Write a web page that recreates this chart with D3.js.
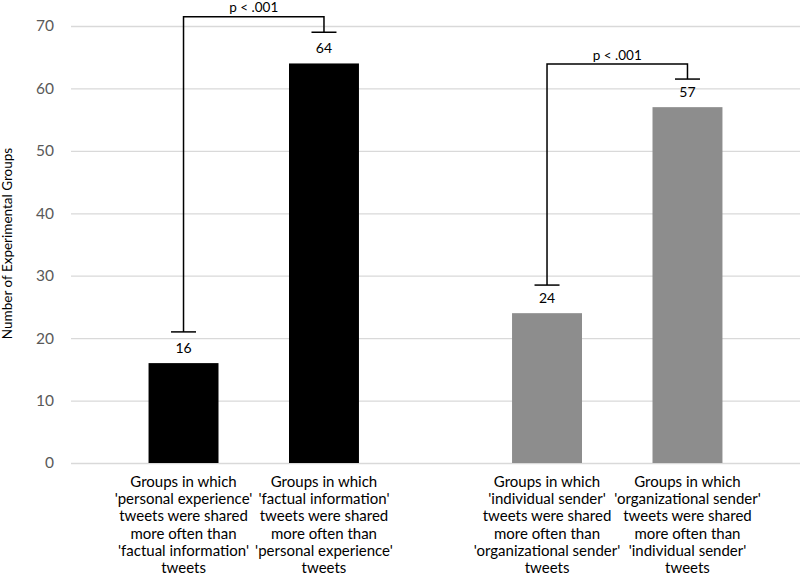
<!DOCTYPE html>
<html>
<head>
<meta charset="utf-8">
<script src="https://cdn.jsdelivr.net/npm/d3@7"></script>
<style>
  html, body { margin: 0; padding: 0; background: #fff; }
  svg { display: block; }
</style>
</head>
<body>
<svg id="chart" width="800" height="577"></svg>
<script>
// ---- data ----
const groups = ["type", "sender"];
const categories = [
  ["Groups in which", "'personal experience'", "tweets were shared", "more often than", "'factual information'", "tweets"],
  ["Groups in which", "'factual information'", "tweets were shared", "more often than", "'personal experience'", "tweets"],
  ["Groups in which", "'individual sender'", "tweets were shared", "more often than", "'organizational sender'", "tweets"],
  ["Groups in which", "'organizational sender'", "tweets were shared", "more often than", "'individual sender'", "tweets"]
];
const categoryGroup = ["type", "type", "sender", "sender"];
const values = [16, 64, 24, 57];
const barColors = ["#000000", "#000000", "#8d8d8d", "#8d8d8d"];
const yTicks = [0, 10, 20, 30, 40, 50, 60, 70];
const yTitle = "Number of Experimental Groups";
// significance brackets: [leftBar, rightBar, leftEnd, rightEnd, top] in data units
const brackets = [
  { left: 0, right: 1, leftEnd: 21, rightEnd: 69, top: 71.5, label: "p < .001" },
  { left: 2, right: 3, leftEnd: 28.5, rightEnd: 61.5, top: 63.9, label: "p < .001" }
];

// ---- layout ----
const svg = d3.select("#chart");
const font = "Lato, 'Open Sans', sans-serif";
const plotLeft = 71, plotRight = 800;

const y = d3.scaleLinear().domain([0, 70]).range([463, 26]);
const xGroup = d3.scaleBand().domain(groups).range([72, 799]).paddingInner(0).paddingOuter(0);
const xInner = d3.scaleBand().domain([0, 1]).range([0, xGroup.bandwidth()])
  .paddingInner(0.502).paddingOuter(0.545);

const idx = d3.range(values.length);
const withinIdx = idx.map(i => idx.filter(j => categoryGroup[j] === categoryGroup[i]).indexOf(i));
const barX = i => xGroup(categoryGroup[i]) + xInner(withinIdx[i]);
const barCx = i => barX(i) + xInner.bandwidth() / 2;

// gridlines
const yAxis = d3.axisLeft(y).tickValues(yTicks).tickSize(-(plotRight - plotLeft)).tickPadding(17);
const gAxis = svg.append("g").attr("transform", `translate(${plotLeft},0)`).call(yAxis);
gAxis.select(".domain").remove();
gAxis.selectAll(".tick line").attr("stroke", "#d9d9d9").attr("stroke-width", 1.3);
gAxis.selectAll(".tick text")
  .attr("fill", "#595959")
  .style("font-family", font)
  .style("font-size", "15.5px");

// y title
svg.append("text")
  .attr("transform", `translate(12,${y(35) - 1}) rotate(-90)`)
  .attr("text-anchor", "middle")
  .style("font-family", font)
  .style("font-size", "13.5px")
  .attr("fill", "#000")
  .text(yTitle);

// bars
svg.append("g").selectAll("rect").data(idx).join("rect")
  .attr("x", i => barX(i))
  .attr("width", xInner.bandwidth())
  .attr("y", i => y(values[i]))
  .attr("height", i => y(0) - y(values[i]))
  .attr("fill", i => barColors[i]);

// value labels
svg.append("g").selectAll("text").data(idx).join("text")
  .attr("x", i => barCx(i))
  .attr("y", i => y(values[i]) - 10)
  .attr("text-anchor", "middle")
  .style("font-family", font)
  .style("font-size", "14px")
  .attr("fill", "#000")
  .text(i => values[i]);

// brackets
const bg = svg.append("g");
brackets.forEach(b => {
  const xl = barCx(b.left), xr = barCx(b.right);
  bg.append("path")
    .attr("d", `M${xl},${y(b.leftEnd)}V${y(b.top)}H${xr}V${y(b.rightEnd)}`)
    .attr("fill", "none").attr("stroke", "#000").attr("stroke-width", 1.5);
  [[xl, b.leftEnd], [xr, b.rightEnd]].forEach(([cx, v]) => {
    bg.append("line")
      .attr("x1", cx - 12.5).attr("x2", cx + 12.5)
      .attr("y1", y(v)).attr("y2", y(v))
      .attr("stroke", "#000").attr("stroke-width", 1.5);
  });
  bg.append("text")
    .attr("x", (xl + xr) / 2)
    .attr("y", y(b.top) - 4.5)
    .attr("text-anchor", "middle")
    .style("font-family", font)
    .style("font-size", "13.5px")
    .attr("fill", "#000")
    .text(b.label);
});

// category labels
const cg = svg.append("g");
idx.forEach(i => {
  const t = cg.append("text")
    .attr("text-anchor", "middle")
    .style("font-family", font)
    .style("font-size", "15px")
    .attr("fill", "#000");
  categories[i].forEach((line, k) => {
    t.append("tspan").attr("x", barCx(i)).attr("y", 487 + k * 17.2).text(line);
  });
});
</script>
</body>
</html>
